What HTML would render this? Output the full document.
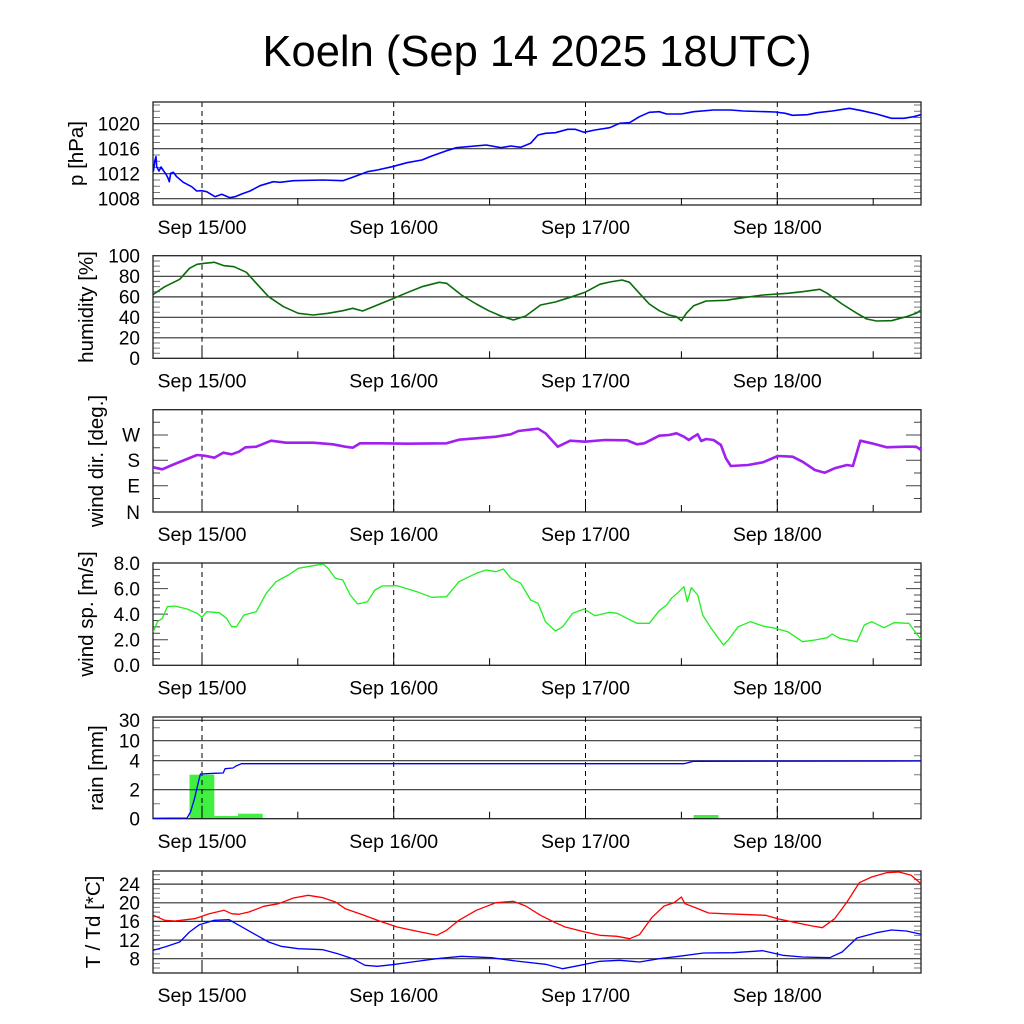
<!DOCTYPE html>
<html><head><meta charset="utf-8"><style>
html,body{margin:0;padding:0;background:#fff;}
svg{display:block;}
text{font-family:"Liberation Sans",Arial,sans-serif;fill:#000;}
</style></head><body>
<svg width="1024" height="1024" viewBox="0 0 1024 1024" xmlns="http://www.w3.org/2000/svg">
<rect width="1024" height="1024" fill="#fff"/>
<text x="537" y="66" font-size="43.5" text-anchor="middle">Koeln (Sep 14 2025 18UTC)</text>

<!-- ========== Panel 1: pressure ========== -->
<g stroke="#333" stroke-width="1.2" fill="none">
<line x1="153" y1="198.7" x2="921" y2="198.7"/>
<line x1="153" y1="173.7" x2="921" y2="173.7"/>
<line x1="153" y1="148.7" x2="921" y2="148.7"/>
<line x1="153" y1="123.7" x2="921" y2="123.7"/>
</g>
<g stroke="#777" stroke-width="1">
<path d="M153 192.5h7M153 186.2h7M153 180h7M153 167.5h7M153 161.2h7M153 155h7M153 142.5h7M153 136.2h7M153 130h7M153 117.5h7M153 111.2h7M153 105h7"/>
<path d="M921 192.5h-7M921 186.2h-7M921 180h-7M921 167.5h-7M921 161.2h-7M921 155h-7M921 142.5h-7M921 136.2h-7M921 130h-7M921 117.5h-7M921 111.2h-7M921 105h-7"/>
</g>
<g stroke="#000" stroke-width="1" stroke-dasharray="5,4">
<line x1="202" y1="102" x2="202" y2="205"/><line x1="393.7" y1="102" x2="393.7" y2="205"/><line x1="585.5" y1="102" x2="585.5" y2="205"/><line x1="777.3" y1="102" x2="777.3" y2="205"/>
</g>
<g stroke="#000" stroke-width="1">
<path d="M202 205v-13M393.7 205v-13M585.5 205v-13M777.3 205v-13M297.8 205v-7M489.6 205v-7M681.4 205v-7M873.2 205v-7"/>
</g>
<rect x="153" y="102" width="768" height="103" fill="none" stroke="#222" stroke-width="1.3"/>
<polyline fill="none" stroke="#0000ff" stroke-width="1.6" stroke-linejoin="round" points="153.3,171.7 155,160 156,156.7 156.7,166.7 159,171 161,167 163,170 166,174.3 168,178 169.3,181.7 170.7,173.3 173.3,172.3 176.7,176.7 183.3,182.3 191.7,186.7 196.7,191 201.7,190.7 206.7,191.7 215,196.7 221.7,194.3 230,197.7 235,196.7 241.7,194 250,191 260,185.7 273.3,181.7 280,182.3 293.3,180.7 323,180 342.8,180.7 352.7,177.3 367.5,171.7 377.4,170 392.2,166.7 407,162.7 421.9,160 431.8,156 446.6,150.7 456.5,147.7 486.1,145 501,147.7 510.9,146 520.8,147.3 530.6,143.3 538,135 545.5,133.3 555.3,132.7 567.7,129.3 575.1,129.3 584,132.3 594.9,130 609.7,127.7 619.6,123.3 629.5,122.7 639.4,116.7 649.3,112.3 659.2,111.7 666.6,114 681.4,114 693.7,111.7 713.5,110 730.8,110 743.2,111 775.3,112 785.2,113.3 792.6,115.3 807.4,114.7 817.3,112.7 832.2,111 849.5,108.3 861.8,110.7 876.6,114 891.5,118.3 903.9,118.3 913.7,116.7 921.1,114.7"/>
<g font-size="19" text-anchor="end">
<text x="140" y="205.5">1008</text><text x="140" y="180.5">1012</text><text x="140" y="155.5">1016</text><text x="140" y="130.5">1020</text>
</g>
<text font-size="20.5" text-anchor="middle" transform="translate(83,153.5) rotate(-90)">p [hPa]</text>
<g font-size="19.5" text-anchor="middle">
<text x="202" y="234">Sep 15/00</text><text x="393.7" y="234">Sep 16/00</text><text x="585.5" y="234">Sep 17/00</text><text x="777.3" y="234">Sep 18/00</text>
</g>

<!-- ========== Panel 2: humidity ========== -->
<g stroke="#333" stroke-width="1.2">
<line x1="153" y1="276.3" x2="921" y2="276.3"/>
<line x1="153" y1="296.9" x2="921" y2="296.9"/>
<line x1="153" y1="317.3" x2="921" y2="317.3"/>
<line x1="153" y1="337.8" x2="921" y2="337.8"/>
</g>
<g stroke="#777" stroke-width="1">
<path d="M153 353.2h7M153 348.1h7M153 343h7M153 332.7h7M153 327.6h7M153 322.4h7M153 312.2h7M153 307.1h7M153 302h7M153 291.7h7M153 286.6h7M153 281.4h7M153 271.2h7M153 266.1h7M153 261h7"/>
<path d="M921 353.2h-7M921 348.1h-7M921 343h-7M921 332.7h-7M921 327.6h-7M921 322.4h-7M921 312.2h-7M921 307.1h-7M921 302h-7M921 291.7h-7M921 286.6h-7M921 281.4h-7M921 271.2h-7M921 266.1h-7M921 261h-7"/>
</g>
<g stroke="#000" stroke-width="1" stroke-dasharray="5,4">
<line x1="202" y1="255.7" x2="202" y2="358.3"/><line x1="393.7" y1="255.7" x2="393.7" y2="358.3"/><line x1="585.5" y1="255.7" x2="585.5" y2="358.3"/><line x1="777.3" y1="255.7" x2="777.3" y2="358.3"/>
</g>
<g stroke="#000" stroke-width="1">
<path d="M202 358.3v-13M393.7 358.3v-13M585.5 358.3v-13M777.3 358.3v-13M297.8 358.3v-7M489.6 358.3v-7M681.4 358.3v-7M873.2 358.3v-7"/>
</g>
<rect x="153" y="255.7" width="768" height="102.6" fill="none" stroke="#222" stroke-width="1.3"/>
<polyline fill="none" stroke="#0b6b0b" stroke-width="1.6" stroke-linejoin="round" points="153.3,294.3 164.8,286.7 179.7,279.3 189.5,268.3 197,264.3 204.4,263.3 214.3,262.3 224.1,265.7 234,266.7 246.4,272.3 256.3,283.3 268.6,296.7 283.5,306.7 298.3,313.3 313.1,315 328,313.3 342.8,310.7 352.7,308.3 362.6,311 377.4,305 392.2,299 407,292.7 421.9,286.7 439.2,282.3 446.6,283.3 461.4,295 476.3,304 488.6,310.7 501,316 513.3,320 525.7,316 540.5,305 555.3,302 570.2,297.3 585,292.3 599.8,284.3 609.7,282 622.1,280 629.5,282.3 639.4,293.3 649.3,304 659.2,310.7 669,315 676.5,316.7 681.4,320.7 686.3,313.3 693.7,305.7 706.1,301 725.9,300.3 743.2,297.7 763,295 787.7,293.3 802.5,291.7 819.8,289.3 827.2,293.3 842.1,304 856.9,313.3 866.8,319 876.6,321 891.5,320.7 906.3,316.7 916.2,313.3 921.1,310"/>
<g font-size="19" text-anchor="end">
<text x="140" y="365">0</text><text x="140" y="344.5">20</text><text x="140" y="324">40</text><text x="140" y="303.5">60</text><text x="140" y="283">80</text><text x="140" y="262.5">100</text>
</g>
<text font-size="20.5" text-anchor="middle" transform="translate(93,307) rotate(-90)">humidity [%]</text>
<g font-size="19.5" text-anchor="middle">
<text x="202" y="387.5">Sep 15/00</text><text x="393.7" y="387.5">Sep 16/00</text><text x="585.5" y="387.5">Sep 17/00</text><text x="777.3" y="387.5">Sep 18/00</text>
</g>

<!-- ========== Panel 3: wind dir ========== -->
<g stroke="#444" stroke-width="1">
<path d="M153 435h15M153 460.3h15M153 485.7h15M153 422.3h7M153 447.7h7M153 473h7M153 498.5h7"/>
<path d="M921 435h-15M921 460.3h-15M921 485.7h-15M921 422.3h-7M921 447.7h-7M921 473h-7M921 498.5h-7"/>
</g>
<g stroke="#000" stroke-width="1" stroke-dasharray="5,4">
<line x1="202" y1="409.7" x2="202" y2="512"/><line x1="393.7" y1="409.7" x2="393.7" y2="512"/><line x1="585.5" y1="409.7" x2="585.5" y2="512"/><line x1="777.3" y1="409.7" x2="777.3" y2="512"/>
</g>
<g stroke="#000" stroke-width="1">
<path d="M202 512v-13M393.7 512v-13M585.5 512v-13M777.3 512v-13M297.8 512v-7M489.6 512v-7M681.4 512v-7M873.2 512v-7"/>
</g>
<rect x="153" y="409.7" width="768" height="102.3" fill="none" stroke="#222" stroke-width="1.3"/>
<polyline fill="none" stroke="#a020f0" stroke-width="2.6" stroke-linejoin="round" points="153.3,467.3 162.4,469.3 172.2,465 184.6,460 197,455 204.4,455.7 214.3,457.7 223.2,452.7 231.6,454.3 239,451.7 245.4,447.3 256.3,446.7 271.1,440.7 285.9,442.7 313.1,442.7 332.9,444.3 345.3,446.7 352.7,447.7 360.1,443.3 382.3,443.3 407,443.7 446.6,443.3 458.9,439.7 476.3,438.3 496,436.7 510.9,434.3 518.3,431 538,428.7 545.5,433.3 557.8,446.7 570.2,440.7 585,441.7 604.8,440 627,440.3 636.9,444.3 644.3,443.3 659.2,435.7 669,435 676.5,433.3 683.9,436.7 688.8,440 693.7,436.7 697.7,434.3 701.2,441 706.1,439 713.5,440 720.9,445 725.9,458.3 730.8,466 748.1,465 763,462.3 777.8,456 792.6,456.7 802.5,461.7 814.9,470 824.8,472.7 834.6,468.3 847,465 852.9,466 860.3,440.7 871.7,443.3 886.5,447.3 906.3,446.7 916.2,446.7 921.1,450"/>
<g font-size="19" text-anchor="end">
<text x="140" y="519">N</text><text x="140" y="492.5">E</text><text x="140" y="467">S</text><text x="140" y="441.5">W</text>
</g>
<text font-size="20.5" text-anchor="middle" transform="translate(103,461) rotate(-90)">wind dir. [deg.]</text>
<g font-size="19.5" text-anchor="middle">
<text x="202" y="541">Sep 15/00</text><text x="393.7" y="541">Sep 16/00</text><text x="585.5" y="541">Sep 17/00</text><text x="777.3" y="541">Sep 18/00</text>
</g>

<!-- ========== Panel 4: wind speed ========== -->
<g stroke="#444" stroke-width="1">
<path d="M153 639.7h15M153 614.1h15M153 588.6h15M153 658.9h7M153 652.5h7M153 646.1h7M153 633.3h7M153 626.9h7M153 620.5h7M153 607.7h7M153 601.3h7M153 595h7M153 582.2h7M153 575.8h7M153 569.4h7"/>
<path d="M921 639.7h-15M921 614.1h-15M921 588.6h-15M921 658.9h-7M921 652.5h-7M921 646.1h-7M921 633.3h-7M921 626.9h-7M921 620.5h-7M921 607.7h-7M921 601.3h-7M921 595h-7M921 582.2h-7M921 575.8h-7M921 569.4h-7"/>
</g>
<g stroke="#000" stroke-width="1" stroke-dasharray="5,4">
<line x1="202" y1="563" x2="202" y2="665.3"/><line x1="393.7" y1="563" x2="393.7" y2="665.3"/><line x1="585.5" y1="563" x2="585.5" y2="665.3"/><line x1="777.3" y1="563" x2="777.3" y2="665.3"/>
</g>
<g stroke="#000" stroke-width="1">
<path d="M202 665.3v-13M393.7 665.3v-13M585.5 665.3v-13M777.3 665.3v-13M297.8 665.3v-7M489.6 665.3v-7M681.4 665.3v-7M873.2 665.3v-7"/>
</g>
<rect x="153" y="563" width="768" height="102.3" fill="none" stroke="#222" stroke-width="1.3"/>
<polyline fill="none" stroke="#22ee22" stroke-width="1.3" stroke-linejoin="round" points="153.3,631.7 157.4,621.7 162.4,618.3 167.3,606.7 174.7,606 187.1,609 197,613.3 201.9,617.3 206.8,611.7 219.2,612.7 226.6,618.3 231.6,626.7 236.5,626.7 243.9,615 256.3,611.7 266.2,593.3 276,581.7 288.4,575 298.3,568.3 313.1,565.7 323,564 328,568.3 335.4,578.3 342.8,580 350.2,595 357.6,604 367.5,601.7 374.9,590 382.3,586 397.2,585.7 416.9,591.7 431.8,597.3 446.6,596.7 458.9,581.7 476.3,573.3 486.1,570 496,571.7 503.4,569 510.9,578.3 520.8,583.3 530.6,600 538,603.3 545.5,621.7 555.3,631 562.8,626.7 572.6,613.3 584,609 594.9,615.7 609.7,612.3 617.1,613.3 627,618.3 636.9,623.3 649.3,623.3 659.2,610.7 666.6,605 671.5,598.3 678.9,591.7 683.9,586.7 687.3,601.7 691.3,587.7 697.7,595 702.7,615 711.1,628.3 723.4,645 728.3,640 738.2,626.7 750.6,621.7 762.9,626 775.3,628.3 787.7,631.7 802.5,641.7 814.9,640 827.2,637.7 832.2,634 839.6,638.3 856.9,641.7 864.3,625 871.7,621.7 884.1,627.7 894,622.7 908.8,623.3 916.2,633.3 921.1,639.3"/>
<g font-size="19" text-anchor="end">
<text x="140" y="672">0.0</text><text x="140" y="646.5">2.0</text><text x="140" y="621">4.0</text><text x="140" y="595.5">6.0</text><text x="140" y="570">8.0</text>
</g>
<text font-size="20.5" text-anchor="middle" transform="translate(93,614) rotate(-90)">wind sp. [m/s]</text>
<g font-size="19.5" text-anchor="middle">
<text x="202" y="694.5">Sep 15/00</text><text x="393.7" y="694.5">Sep 16/00</text><text x="585.5" y="694.5">Sep 17/00</text><text x="777.3" y="694.5">Sep 18/00</text>
</g>

<!-- ========== Panel 5: rain ========== -->
<g fill="#40f040">
<rect x="189.5" y="774.7" width="24.8" height="44"/>
<rect x="214.3" y="816" width="23.7" height="2.7"/>
<rect x="238" y="813.7" width="24.7" height="5"/>
<rect x="693.7" y="815" width="24.8" height="3.7"/>
</g>
<g stroke="#333" stroke-width="1.2">
<line x1="153" y1="720.3" x2="921" y2="720.3"/>
<line x1="153" y1="740.7" x2="921" y2="740.7"/>
<line x1="153" y1="760.7" x2="921" y2="760.7"/>
<line x1="153" y1="789.7" x2="921" y2="789.7"/>
</g>
<g stroke="#777" stroke-width="1">
<path d="M153 727.7h7M153 755.7h7M153 774.7h7M153 803.7h7M921 727.7h-7M921 755.7h-7M921 774.7h-7M921 803.7h-7"/>
</g>
<g stroke="#000" stroke-width="1" stroke-dasharray="5,4">
<line x1="202" y1="717" x2="202" y2="818.7"/><line x1="393.7" y1="717" x2="393.7" y2="818.7"/><line x1="585.5" y1="717" x2="585.5" y2="818.7"/><line x1="777.3" y1="717" x2="777.3" y2="818.7"/>
</g>
<g stroke="#000" stroke-width="1">
<path d="M202 818.7v-13M393.7 818.7v-13M585.5 818.7v-13M777.3 818.7v-13M297.8 818.7v-7M489.6 818.7v-7M681.4 818.7v-7M873.2 818.7v-7"/>
</g>
<rect x="153" y="717" width="768" height="101.7" fill="none" stroke="#222" stroke-width="1.3"/>
<polyline fill="none" stroke="#0000ff" stroke-width="1.3" stroke-linejoin="round" points="153.3,818.3 187.1,818 190.5,812 194.5,798.7 198.4,782 200.4,774 214.3,773.3 223.2,773 225.1,768.7 233,768 236,766 241.5,763.7 683.9,763.7 693.7,761.3 921.1,761"/>
<g font-size="19" text-anchor="end">
<text x="140" y="825.5">0</text><text x="140" y="796.5">2</text><text x="140" y="767.5">4</text><text x="140" y="747.5">10</text><text x="140" y="727">30</text>
</g>
<text font-size="20.5" text-anchor="middle" transform="translate(103,768) rotate(-90)">rain [mm]</text>
<g font-size="19.5" text-anchor="middle">
<text x="202" y="848">Sep 15/00</text><text x="393.7" y="848">Sep 16/00</text><text x="585.5" y="848">Sep 17/00</text><text x="777.3" y="848">Sep 18/00</text>
</g>

<!-- ========== Panel 6: T / Td ========== -->
<g stroke="#333" stroke-width="1.2">
<line x1="153" y1="884.1" x2="921" y2="884.1"/>
<line x1="153" y1="902.8" x2="921" y2="902.8"/>
<line x1="153" y1="921.4" x2="921" y2="921.4"/>
<line x1="153" y1="940.1" x2="921" y2="940.1"/>
<line x1="153" y1="958.7" x2="921" y2="958.7"/>
</g>
<g stroke="#777" stroke-width="1">
<path d="M153 968h7M153 963.4h7M153 954h7M153 949.4h7M153 944.7h7M153 935.4h7M153 930.7h7M153 926.1h7M153 916.7h7M153 912.1h7M153 907.4h7M153 898.1h7M153 893.4h7M153 888.8h7M153 879.5h7M153 874.8h7"/>
<path d="M921 968h-7M921 963.4h-7M921 954h-7M921 949.4h-7M921 944.7h-7M921 935.4h-7M921 930.7h-7M921 926.1h-7M921 916.7h-7M921 912.1h-7M921 907.4h-7M921 898.1h-7M921 893.4h-7M921 888.8h-7M921 879.5h-7M921 874.8h-7"/>
</g>
<g stroke="#000" stroke-width="1" stroke-dasharray="5,4">
<line x1="202" y1="871" x2="202" y2="973"/><line x1="393.7" y1="871" x2="393.7" y2="973"/><line x1="585.5" y1="871" x2="585.5" y2="973"/><line x1="777.3" y1="871" x2="777.3" y2="973"/>
</g>
<g stroke="#000" stroke-width="1">
<path d="M202 973v-13M393.7 973v-13M585.5 973v-13M777.3 973v-13M297.8 973v-7M489.6 973v-7M681.4 973v-7M873.2 973v-7"/>
</g>
<rect x="153" y="871" width="768" height="102" fill="none" stroke="#222" stroke-width="1.3"/>
<polyline fill="none" stroke="#ff0000" stroke-width="1.3" stroke-linejoin="round" points="153.3,915.3 164.8,920.3 174.7,921 194.5,918.7 209.3,913.7 224.1,910.3 231.6,913.7 239,914.3 248.9,912 263.7,906.3 278.5,903.7 293.4,898 308.2,895.3 323,897.7 335.4,902 345.3,908.7 362.6,914.7 382.3,922 397.2,927 416.9,931.3 436.7,935.3 446.6,930.3 458.9,920.3 476.3,910.3 496,902.7 513.3,901.3 525.7,906 540.5,915.3 555.3,922.7 565.2,927 585,932 599.8,935.3 617.1,936.3 629.5,938.7 639.4,934.7 651.7,917.7 664.1,906 674,902.7 681.4,897 684.9,903.7 693.7,907 708.6,913 723.4,913.7 765.4,915.3 777.8,918.7 792.6,922 812.4,926 822.3,927.7 834.6,918.7 847,902 859.3,882.7 871.7,877 886.5,872.7 898.9,872 911.2,875.3 921.1,883.7"/>
<polyline fill="none" stroke="#0000ff" stroke-width="1.3" stroke-linejoin="round" points="153.3,950.3 164.8,947 179.7,942 189.5,932 199.4,924.7 214.3,920.3 229.1,919.7 239,925.3 253.8,933.7 268.6,942 281,946.3 298.3,948.7 323,949.7 337.8,953.7 352.7,958.7 365,965.3 377.4,966.3 392.2,964.7 412,962 436.7,958.7 461.4,956.3 491.1,957.7 515.8,961 545.5,964.3 562.8,968.7 580.1,965.3 599.8,961.3 619.6,960.3 639.4,962 659.2,958.7 678.9,956.3 703.6,953 733.3,952.7 763,950.7 782.7,955.3 802.5,957 829.7,957.7 842.1,952 856.9,938 876.6,932.7 891.5,930 906.3,931 921.1,934.3"/>
<g font-size="19" text-anchor="end">
<text x="140" y="965.5">8</text><text x="140" y="947">12</text><text x="140" y="928.2">16</text><text x="140" y="909.6">20</text><text x="140" y="891">24</text>
</g>
<text font-size="20.5" text-anchor="middle" transform="translate(100,922) rotate(-90)">T / Td [*C]</text>
<g font-size="19.5" text-anchor="middle">
<text x="202" y="1002">Sep 15/00</text><text x="393.7" y="1002">Sep 16/00</text><text x="585.5" y="1002">Sep 17/00</text><text x="777.3" y="1002">Sep 18/00</text>
</g>
</svg>
</body></html>
